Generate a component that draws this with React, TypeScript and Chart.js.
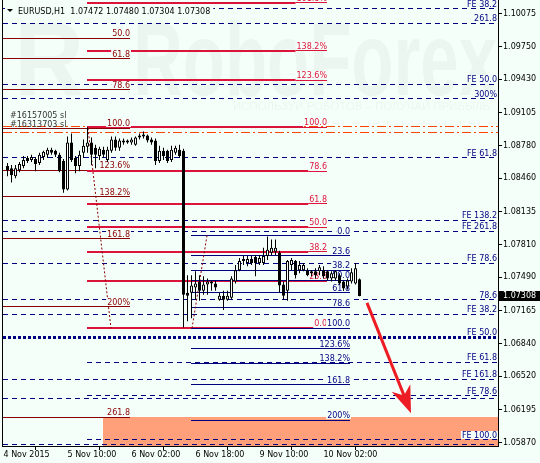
import React, { useEffect, useRef } from 'react';
import { Chart, registerables } from 'chart.js';

Chart.register(...registerables);

const BG = '#f5fffa';
const FONT = '"DejaVu Sans"';

// ---- candles (EURUSD H1), index 0 = first bar after "4 Nov 2015" tick ----
const opens = [
  1.0858, 1.0856, 1.0848, 1.0854, 1.0858, 1.0866, 1.0864, 1.0865, 1.0861, 1.0867,
  1.0869, 1.0874, 1.0873, 1.0869, 1.0863, 1.0835, 1.0881, 1.0866, 1.0858, 1.0871,
  1.0877, 1.0881, 1.0876, 1.0868, 1.0874, 1.0864, 1.0873, 1.0884, 1.0876, 1.0881,
  1.0883, 1.0881, 1.0879, 1.0886, 1.0887, 1.0888, 1.0884, 1.0883, 1.0863, 1.0873,
  1.0873, 1.0864, 1.0871, 1.0874, 1.0873, 1.0734, 1.0734, 1.0739, 1.0745, 1.0736,
  1.0742, 1.0745, 1.0743, 1.0727, 1.0731, 1.0727, 1.0729, 1.0745, 1.0756, 1.0765,
  1.0763, 1.0767, 1.0769, 1.0763, 1.0763, 1.0770, 1.0773, 1.0774, 1.0773, 1.0742,
  1.0736, 1.0761, 1.0765, 1.0756, 1.0756, 1.0756, 1.0755, 1.0755, 1.0755, 1.0756,
  1.0755, 1.0748, 1.0748, 1.0751, 1.0745, 1.0740, 1.0745, 1.0743, 1.07472,
];
const highs = [
  1.0861, 1.0859, 1.0859, 1.0862, 1.0868, 1.0868, 1.0869, 1.0867, 1.0871, 1.0873,
  1.0876, 1.0876, 1.0874, 1.0871, 1.0865, 1.0887, 1.0890, 1.0868, 1.0873, 1.0884,
  1.0896, 1.0886, 1.0879, 1.0877, 1.0877, 1.0877, 1.0887, 1.0887, 1.0885, 1.0885,
  1.0884, 1.0886, 1.0887, 1.0890, 1.0892, 1.0889, 1.0886, 1.0885, 1.0878, 1.0876,
  1.0874, 1.0878, 1.0878, 1.0879, 1.0875, 1.0751, 1.0751, 1.0755, 1.0751, 1.0750,
  1.0748, 1.0746, 1.0746, 1.0734, 1.0736, 1.0736, 1.0750, 1.0761, 1.0768, 1.0770,
  1.0770, 1.0770, 1.0771, 1.0771, 1.0778, 1.0789, 1.0786, 1.0786, 1.0775, 1.0745,
  1.0766, 1.0768, 1.0766, 1.0765, 1.0763, 1.0758, 1.0756, 1.0758, 1.0761, 1.0760,
  1.0756, 1.0755, 1.0756, 1.0753, 1.0746, 1.0748, 1.0758, 1.0763, 1.07480,
];
const lows = [
  1.0848, 1.0842, 1.0846, 1.0852, 1.0856, 1.0861, 1.0862, 1.0853, 1.0859, 1.0864,
  1.0866, 1.0869, 1.0867, 1.0852, 1.0832, 1.0834, 1.0862, 1.0851, 1.0853, 1.0866,
  1.0871, 1.0859, 1.0856, 1.0864, 1.0866, 1.0862, 1.0871, 1.0873, 1.0873, 1.0879,
  1.0880, 1.0879, 1.0878, 1.0884, 1.0885, 1.0881, 1.0879, 1.0859, 1.0861, 1.0864,
  1.0861, 1.0862, 1.0869, 1.0866, 1.0700, 1.0706, 1.0709, 1.0727, 1.0726, 1.0732,
  1.0732, 1.0736, 1.0736, 1.0726, 1.0717, 1.0726, 1.0727, 1.0743, 1.0755, 1.0761,
  1.0760, 1.0761, 1.0750, 1.0761, 1.0761, 1.0766, 1.0771, 1.0771, 1.0734, 1.0727,
  1.0726, 1.0756, 1.0748, 1.0753, 1.0755, 1.0750, 1.0750, 1.0748, 1.0751, 1.0748,
  1.0746, 1.0745, 1.0746, 1.0742, 1.0736, 1.0737, 1.0743, 1.0742, 1.07304,
];
const closes = [
  1.0854, 1.0849, 1.0856, 1.0860, 1.0864, 1.0863, 1.0867, 1.0860, 1.0869, 1.0872,
  1.0874, 1.0871, 1.0869, 1.0853, 1.0835, 1.0881, 1.0864, 1.0858, 1.0869, 1.0878,
  1.0881, 1.0869, 1.0869, 1.0875, 1.0869, 1.0874, 1.0884, 1.0876, 1.0883, 1.0883,
  1.0881, 1.0884, 1.0886, 1.0888, 1.0889, 1.0883, 1.0881, 1.0863, 1.0873, 1.0868,
  1.0863, 1.0874, 1.0876, 1.0868, 1.0732, 1.0731, 1.0741, 1.0743, 1.0736, 1.0742,
  1.0745, 1.0743, 1.0739, 1.0731, 1.0727, 1.0731, 1.0748, 1.0756, 1.0765, 1.0767,
  1.0767, 1.0763, 1.0763, 1.0768, 1.0770, 1.0776, 1.0778, 1.0778, 1.0741, 1.0731,
  1.0765, 1.0766, 1.0751, 1.0761, 1.0761, 1.0751, 1.0753, 1.0751, 1.0759, 1.0750,
  1.0748, 1.0753, 1.0755, 1.0743, 1.0738, 1.0746, 1.0754, 1.0758, 1.07308,
];

// ---- axes ----
const xTickIndex = [-1, 15, 31, 47, 63, 79];
const xTickLabels = ['4 Nov 2015', '5 Nov 10:00', '6 Nov 02:00', '6 Nov 18:00', '9 Nov 10:00', '10 Nov 02:00'];
const yTickValues = [1.10075, 1.0975, 1.0943, 1.09105, 1.0878, 1.0846, 1.08135, 1.0781, 1.0749, 1.07165, 1.0684, 1.0652, 1.06195, 1.0587];
const yMin = 1.05838;
const yMax = 1.10207;
const xMin = -1.125;
const xMax = 122.625;

const header = 'EURUSD,H1  1.07472 1.07480 1.07304 1.07308';
const lastPrice = 1.07308;

// ---- overlays ----
const maroonFibLevels = [1.0983, 1.0963, 1.0933, 1.0895, 1.0854, 1.0828, 1.0787, 1.0720, 1.0612];
const maroonFibLabels = ['50.0', '61.8', '78.6', '100.0', '123.6%', '138.2%', '161.8', '200%', '261.8'];
const maroonFibSpan = [-1.125, 30.625];

const crimsonFibLevels = [1.1018, 1.0971, 1.0942, 1.0896, 1.0853, 1.0821, 1.0798, 1.0774, 1.0745, 1.0699];
const crimsonFibLabels = ['161.8%', '138.2%', '123.6%', '100.0', '78.6', '61.8', '50.0', '38.2', '23.6', '0.0'];
const crimsonFibSpan = [19.875, 79.875];

const navyFibLevels = [1.0790, 1.0770, 1.0756, 1.0746, 1.0734, 1.0719, 1.0699, 1.0679, 1.0665, 1.0644, 1.0609];
const navyFibLabels = ['0.0', '23.6', '38.2', '50.0', '61.8', '78.6', '100.0', '123.6%', '138.2%', '161.8', '200%'];
const navyFibSpan = [45.875, 85.625];

const feLevels = [1.1012, 1.0998, 1.0938, 1.0924, 1.0866, 1.0805, 1.0794, 1.0763, 1.0727, 1.0713, 1.0666, 1.0649, 1.0633, 1.0630, 1.0590, 1.0585];
const feLabels = ['FE 38.2', '261.8', 'FE 50.0', '300%', 'FE 61.8', 'FE 138.2', 'FE 261.8', 'FE 78.6', '78.6', 'FE 38.2', 'FE 61.8', 'FE 161.8', 'FE 78.6', '', 'FE 100.0', ''];
const feStart = [-1.125, -1.125, -1.125, -1.125, -1.125, -1.125, -1.125, -1.125, -1.125, -1.125, 19.875, -1.125, 19.875, -1.125, 19.875, -1.125];
const feBoldLevel = 1.0690;
const feBoldLabel = 'FE 50.0';

const stopLevels = [1.0897, 1.0891];
const stopLabels = ['#16157005 sl', '#16313703 sl'];

const trendA = [{ x: 20.125, y: 1.0895 }, { x: 25.875, y: 1.0699 }];
const trendB = [{ x: 49.875, y: 1.0790 }, { x: 46.125, y: 1.0699 }];
const arrowLine = [{ x: 89.875, y: 1.0724 }, { x: 100.875, y: 1.0616 }];
const targetZone = { x0: 23.875, x1: 122.625, y0: 1.0612, y1: 1.0570 };

function hLine(ctx: CanvasRenderingContext2D, x0: number, x1: number, y: number, color: string, width: number, dash: number[] = []) {
  ctx.save();
  ctx.strokeStyle = color;
  ctx.lineWidth = width;
  ctx.setLineDash(dash);
  const yy = width % 2 === 1 ? Math.round(y - 0.5) + 0.5 : Math.round(y);
  ctx.beginPath();
  ctx.moveTo(x0, yy);
  ctx.lineTo(x1, yy);
  ctx.stroke();
  ctx.restore();
}

function label(ctx: CanvasRenderingContext2D, text: string, xRight: number, y: number, color: string) {
  if (!text) return 0;
  ctx.save();
  ctx.font = `8px ${FONT}`;
  const w = ctx.measureText(text).width;
  const base = Math.round(y) - 2;
  ctx.fillStyle = BG;
  ctx.fillRect(xRight - w - 1, base - 7, w + 2, 8);
  ctx.fillStyle = color;
  ctx.textAlign = 'right';
  ctx.textBaseline = 'alphabetic';
  ctx.fillText(text, xRight, base);
  ctx.restore();
  return w;
}

function textWidth(ctx: CanvasRenderingContext2D, text: string) {
  ctx.save();
  ctx.font = `8px ${FONT}`;
  const w = ctx.measureText(text).width;
  ctx.restore();
  return w;
}

export default function App() {
  const ref = useRef<HTMLCanvasElement>(null);

  useEffect(() => {
    const canvas = ref.current;
    if (!canvas) return;

    const overlay = {
      id: 'overlay',
      beforeDraw(chart: any) {
        const ctx: CanvasRenderingContext2D = chart.ctx;
        ctx.save();
        ctx.fillStyle = BG;
        ctx.fillRect(0, 0, chart.width, chart.height);
        // watermark
        ctx.fillStyle = 'rgba(40,50,45,0.045)';
        ctx.font = 'bold 100px "Liberation Sans"';
        ctx.textBaseline = 'alphabetic';
        const t = 'RoboForex';
        const w = ctx.measureText(t).width;
        ctx.save();
        ctx.translate(133, 95);
        ctx.scale(364 / w, 1.04);
        ctx.fillText(t, 0, 0);
        ctx.restore();
        const wr = ctx.measureText('R').width;
        ctx.save();
        ctx.translate(14, 96);
        ctx.scale(70 / wr, 1.06);
        ctx.fillText('R', 0, 0);
        ctx.restore();
        ctx.font = `10px "Liberation Sans"`;
        const sub = 'ИСПОЛЬЗУЙ РОБОТОВ – ПОЛУЧАЙ ПРИБЫЛЬ';
        const ws = ctx.measureText(sub).width;
        ctx.save();
        ctx.translate(233, 110);
        ctx.scale(257 / ws, 1.1);
        ctx.fillText(sub, 0, 0);
        ctx.restore();
        ctx.restore();
      },
      beforeDatasetsDraw(chart: any) {
        const ctx: CanvasRenderingContext2D = chart.ctx;
        const xs = chart.scales.x;
        const ys = chart.scales.y;
        const area = chart.chartArea;
        const X = (v: number) => xs.getPixelForValue(v);
        const Y = (v: number) => ys.getPixelForValue(v);
        ctx.save();
        ctx.beginPath();
        ctx.rect(area.left, area.top, area.right - area.left, area.bottom - area.top);
        ctx.clip();

        // target zone
        ctx.fillStyle = '#ffa07a';
        const zx0 = Math.round(X(targetZone.x0));
        const zy0 = Math.round(Y(targetZone.y0));
        ctx.fillRect(zx0, zy0, X(targetZone.x1) - zx0, Y(targetZone.y1) - zy0);

        // FE dashed lines
        const navy = '#000080';
        feLevels.forEach((lv, i) => hLine(ctx, X(feStart[i]), area.right, Y(lv), navy, 1, [5, 4]));
        hLine(ctx, area.left, area.right, Y(feBoldLevel), navy, 3, [3, 2]);

        // stop-loss lines
        stopLevels.forEach((lv) => hLine(ctx, area.left, area.right, Y(lv), '#ff4500', 1, [9, 3, 2, 3]));

        // maroon fib
        const maroon = '#8b0000';
        maroonFibLevels.forEach((lv) => hLine(ctx, X(maroonFibSpan[0]), X(maroonFibSpan[1]), Y(lv), maroon, 1));

        // crimson fib (thick line up to the label, thin under the label)
        const crimson = '#dc143c';
        crimsonFibLevels.forEach((lv, i) => {
          const x1 = X(crimsonFibSpan[1]);
          const w = textWidth(ctx, crimsonFibLabels[i]);
          hLine(ctx, X(crimsonFibSpan[0]), x1 - w - 1, Y(lv), crimson, 2);
          hLine(ctx, x1 - w - 1, x1, Y(lv), crimson, 1);
        });

        // navy fib
        navyFibLevels.forEach((lv) => hLine(ctx, X(navyFibSpan[0]), X(navyFibSpan[1]), Y(lv), '#000080', 1));

        // dotted trend lines
        [trendA, trendB].forEach((seg) => {
          ctx.save();
          ctx.strokeStyle = maroon;
          ctx.lineWidth = 1;
          ctx.setLineDash([2, 2]);
          ctx.beginPath();
          ctx.moveTo(X(seg[0].x), Y(seg[0].y));
          ctx.lineTo(X(seg[1].x), Y(seg[1].y));
          ctx.stroke();
          ctx.restore();
        });

        // labels
        feLevels.forEach((lv, i) => label(ctx, feLabels[i], area.right - 1, Y(lv), navy));
        label(ctx, feBoldLabel, area.right - 1, Y(feBoldLevel) - 1, navy);
        maroonFibLevels.forEach((lv, i) => label(ctx, maroonFibLabels[i], X(maroonFibSpan[1]), Y(lv), maroon));
        crimsonFibLevels.forEach((lv, i) => label(ctx, crimsonFibLabels[i], X(crimsonFibSpan[1]), Y(lv), crimson));
        navyFibLevels.forEach((lv, i) => label(ctx, navyFibLabels[i], X(navyFibSpan[1]), Y(lv), '#000080'));

        ctx.restore();

        // stop labels
        ctx.save();
        ctx.font = `8px ${FONT}`;
        ctx.fillStyle = '#333333';
        ctx.textAlign = 'left';
        ctx.fillText(stopLabels[0], 10, Math.round(Y(stopLevels[0])) - 8);
        ctx.fillText(stopLabels[1], 10, Math.round(Y(stopLevels[1])) - 5);
        ctx.restore();
      },
      afterDatasetsDraw(chart: any) {
        const ctx: CanvasRenderingContext2D = chart.ctx;
        const xs = chart.scales.x;
        const ys = chart.scales.y;
        const area = chart.chartArea;
        // arrow
        const x0 = xs.getPixelForValue(arrowLine[0].x);
        const y0 = ys.getPixelForValue(arrowLine[0].y);
        const x1 = xs.getPixelForValue(arrowLine[1].x);
        const y1 = ys.getPixelForValue(arrowLine[1].y);
        const len = Math.hypot(x1 - x0, y1 - y0);
        const ux = (x1 - x0) / len;
        const uy = (y1 - y0) / len;
        const nx = -uy;
        const ny = ux;
        ctx.save();
        ctx.strokeStyle = '#ed1c24';
        ctx.fillStyle = '#ed1c24';
        ctx.lineWidth = 3;
        ctx.beginPath();
        ctx.moveTo(x0, y0);
        ctx.lineTo(x1 - 18 * ux, y1 - 18 * uy);
        ctx.stroke();
        const L = 27;
        const W = 10;
        ctx.beginPath();
        ctx.moveTo(x1, y1);
        ctx.lineTo(x1 - L * ux + W * nx, y1 - L * uy + W * ny);
        ctx.lineTo(x1 - 19 * ux, y1 - 19 * uy);
        ctx.lineTo(x1 - L * ux - W * nx, y1 - L * uy - W * ny);
        ctx.closePath();
        ctx.fill();
        ctx.restore();

        // left frame line
        ctx.save();
        ctx.strokeStyle = '#000';
        ctx.lineWidth = 1;
        ctx.beginPath();
        ctx.moveTo(area.left - 0.5, area.top);
        ctx.lineTo(area.left - 0.5, area.bottom + 1);
        ctx.stroke();
        ctx.restore();

        // header
        ctx.save();
        ctx.font = `8px ${FONT}`;
        const hw = ctx.measureText(header).width;
        ctx.fillStyle = BG;
        ctx.fillRect(5, 4, hw + 16, 11);
        ctx.fillStyle = '#000';
        ctx.beginPath();
        ctx.moveTo(7, 9);
        ctx.lineTo(13, 9);
        ctx.lineTo(10, 12);
        ctx.closePath();
        ctx.fill();
        ctx.textAlign = 'left';
        ctx.textBaseline = 'alphabetic';
        ctx.fillText(header, 18, 14);
        ctx.restore();
      },
      afterDraw(chart: any) {
        const ctx: CanvasRenderingContext2D = chart.ctx;
        const ys = chart.scales.y;
        const area = chart.chartArea;
        const y = ys.getPixelForValue(lastPrice);
        ctx.save();
        ctx.fillStyle = '#000';
        ctx.fillRect(area.right + 1, Math.round(y) - 5, chart.width - area.right - 1, 10);
        ctx.fillStyle = '#fff';
        ctx.font = `8px ${FONT}`;
        ctx.textAlign = 'left';
        ctx.textBaseline = 'middle';
        ctx.fillText(lastPrice.toFixed(5), area.right + 5, Math.round(y));
        ctx.restore();
      },
    };

    const idx = opens.map((_, i) => i);
    const chart = new Chart(canvas, {
      type: 'bar',
      data: {
        datasets: [
          {
            label: 'range',
            data: idx.map((i) => ({ x: i, y: [lows[i], highs[i]] })) as any,
            backgroundColor: '#000',
            borderWidth: 0,
            barThickness: 1,
            grouped: false,
            inflateAmount: 0,
            order: 2,
          } as any,
          {
            label: 'body',
            data: idx.map((i) => ({ x: i, y: [opens[i], closes[i]] })) as any,
            backgroundColor: idx.map((i) => (closes[i] >= opens[i] ? '#ffffff' : '#000000')),
            borderColor: '#000',
            borderWidth: 1,
            borderSkipped: false,
            barThickness: 3,
            grouped: false,
            inflateAmount: 0,
            order: 1,
          } as any,
        ],
      },
      options: {
        responsive: false,
        animation: false,
        devicePixelRatio: 1,
        layout: { padding: { left: 3, top: 0, right: 0, bottom: 0 } },
        plugins: { legend: { display: false }, tooltip: { enabled: false } },
        scales: {
          x: {
            type: 'linear',
            min: xMin,
            max: xMax,
            offset: false,
            grid: { drawOnChartArea: false, drawTicks: true, tickLength: 4, color: '#000', tickColor: '#000' },
            border: { display: true, color: '#000' },
            ticks: {
              autoSkip: false,
              maxRotation: 0,
              minRotation: 0,
              align: 'start',
              padding: 0,
              color: '#000',
              font: { family: 'DejaVu Sans', size: 8 },
              callback: (v: any) => {
                const k = xTickIndex.indexOf(Number(v));
                return k >= 0 ? xTickLabels[k] : '';
              },
            },
            afterBuildTicks: (s: any) => {
              s.ticks = xTickIndex.map((v) => ({ value: v }));
            },
            afterFit: (s: any) => {
              s.height = 17;
              s.paddingLeft = 0;
              s.paddingRight = 0;
            },
          },
          y: {
            type: 'linear',
            position: 'right',
            min: yMin,
            max: yMax,
            grid: { drawOnChartArea: false, drawTicks: true, tickLength: 4, color: '#000', tickColor: '#000' },
            border: { display: true, color: '#000' },
            ticks: {
              autoSkip: false,
              padding: 1,
              color: '#000',
              font: { family: 'DejaVu Sans', size: 8 },
              callback: (v: any) => Number(v).toFixed(5),
            },
            afterBuildTicks: (s: any) => {
              s.ticks = yTickValues.map((v) => ({ value: v }));
            },
            afterFit: (s: any) => {
              s.width = 42;
              s.paddingTop = 0;
              s.paddingBottom = 0;
            },
          },
        },
      } as any,
      plugins: [overlay],
    });
    return () => chart.destroy();
  }, []);

  return (
    <div style={{ position: 'fixed', left: 0, top: 0, width: 540, height: 463, background: BG }}>
      <canvas ref={ref} width={540} height={463} style={{ display: 'block', width: 540, height: 463 }} />
    </div>
  );
}
